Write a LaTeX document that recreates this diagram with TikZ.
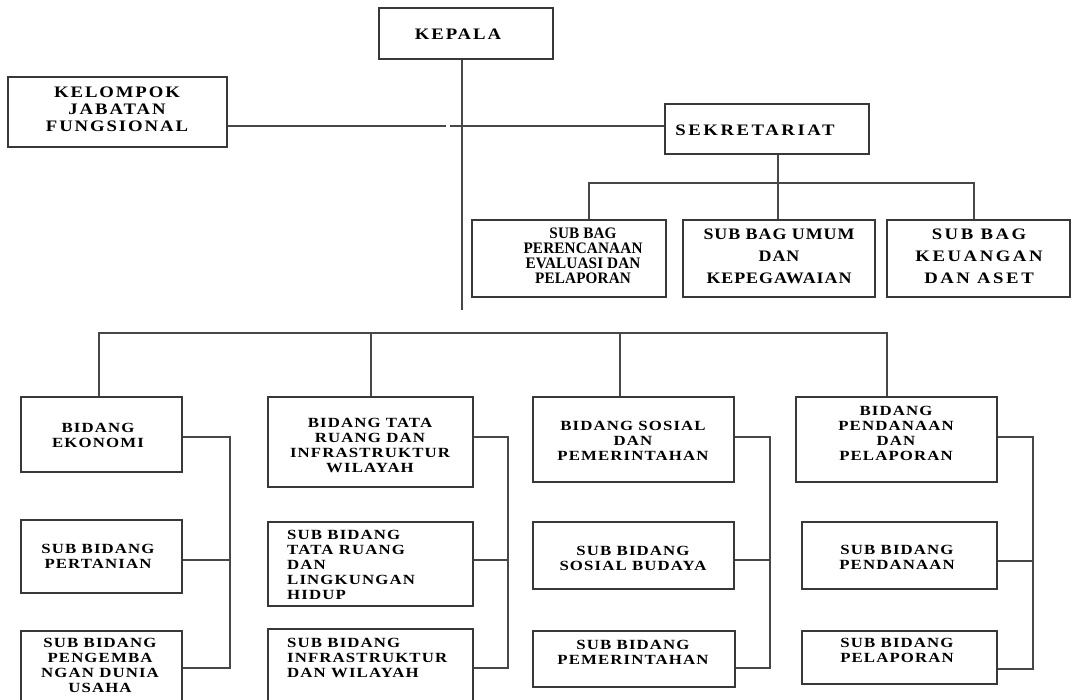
\documentclass[tikz,border=0pt]{standalone}
\usepackage{fontspec}
\setmainfont{Liberation Serif}
\newfontfamily\wideA[FakeStretch=1.17,LetterSpace=12]{Liberation Serif}
\newfontfamily\wideB[FakeStretch=1.2,LetterSpace=8]{Liberation Serif}
\newfontfamily\wideC[FakeStretch=0.95,LetterSpace=1]{Liberation Serif}
\newfontfamily\wideD[FakeStretch=1.12,LetterSpace=6]{Liberation Serif}
\newfontfamily\wideE[FakeStretch=1.17,LetterSpace=16]{Liberation Serif}
\begin{document}
\begin{tikzpicture}[x=1pt,y=-1pt,
  box/.style={draw=black!78, line width=1.7pt, rectangle, inner sep=0pt},
  ln/.style={draw=black!72, line width=1.7pt},
  tt/.style={inner sep=0pt, align=center, text=black, font=\wideA\fontsize{16}{16}\selectfont\bfseries},
  bt/.style={inner sep=0pt, align=center, text=black, font=\wideB\fontsize{14}{15}\selectfont\bfseries},
  bl/.style={inner sep=0pt, align=left, anchor=north west, text=black, font=\wideB\fontsize{14}{15}\selectfont\bfseries}
]
\clip (0,0) rectangle (1075,700);
\fill[white] (0,0) rectangle (1075,700);

% top boxes
\node[box, minimum width=174pt, minimum height=51pt] (kepala) at (465.75,33.8) {};
\node[tt] (tkepala) at (458,34) {KEPALA};
\node[box, minimum width=219pt, minimum height=70pt] (kelompok) at (117.5,112) {};
\node[tt, font=\wideA\fontsize{16}{17}\selectfont\bfseries] (tkelompok) at (117,109) {KELOMPOK\\JABATAN\\FUNGSIONAL};
\node[box, minimum width=204pt, minimum height=50pt] (sekr) at (767,129) {};
\node[tt, font=\wideE\fontsize{16}{16}\selectfont\bfseries] (tsekr) at (755,130.5) {SEKRETARIAT};

\node[box, minimum width=194pt, minimum height=77pt] (sb1) at (569,258.5) {};
\node[tt, font=\wideC\fontsize{16}{15}\selectfont\bfseries] (tsb1) at (583,255.5) {SUB BAG\\PERENCANAAN\\EVALUASI DAN\\PELAPORAN};
\node[box, minimum width=192pt, minimum height=77pt] (sb2) at (779,258.5) {};
\node[tt, font=\wideD\fontsize{16}{22}\selectfont\bfseries] (tsb2) at (779,256.5) {SUB BAG UMUM\\DAN\\KEPEGAWAIAN};
\node[box, minimum width=183pt, minimum height=77pt] (sb3) at (978.5,258.5) {};
\node[tt, font=\wideE\fontsize{16}{22}\selectfont\bfseries] (tsb3) at (979,256.5) {SUB BAG\\KEUANGAN\\DAN ASET};

% bottom boxes
\node[box, minimum width=161pt, minimum height=75pt] (b11) at (101.5,434.5) {};
\node[bt] (tb11) at (98,435) {BIDANG\\EKONOMI};
\node[box, minimum width=161pt, minimum height=73pt] (b12) at (101.5,556.5) {};
\node[bt] (tb12) at (98,556) {SUB BIDANG\\PERTANIAN};
\node[box, minimum width=161pt, minimum height=84pt] (b13) at (101.5,673) {};
\node[bt] (tb13) at (100,665.5) {SUB BIDANG\\PENGEMBA\\NGAN DUNIA\\USAHA};

\node[box, minimum width=205pt, minimum height=90pt] (b21) at (370.5,442) {};
\node[bt] (tb21) at (370,445) {BIDANG TATA\\RUANG DAN\\INFRASTRUKTUR\\WILAYAH};
\node[box, minimum width=205pt, minimum height=84pt] (b22) at (370.5,564) {};
\node[bl] (tb22) at (287,530) {SUB BIDANG\\TATA RUANG\\DAN\\LINGKUNGAN\\HIDUP};
\node[box, minimum width=205pt, minimum height=86pt] (b23) at (370.5,672) {};
\node[bl] (tb23) at (287,638) {SUB BIDANG\\INFRASTRUKTUR\\DAN WILAYAH};

\node[box, minimum width=201pt, minimum height=85pt] (b31) at (633.5,439.5) {};
\node[bt] (tb31) at (633,441) {BIDANG SOSIAL\\DAN\\PEMERINTAHAN};
\node[box, minimum width=201pt, minimum height=67pt] (b32) at (633.5,555.5) {};
\node[bt] (tb32) at (633,558) {SUB BIDANG\\SOSIAL BUDAYA};
\node[box, minimum width=202pt, minimum height=56pt] (b33) at (634,659) {};
\node[bt] (tb33) at (633,652) {SUB BIDANG\\PEMERINTAHAN};

\node[box, minimum width=201pt, minimum height=85pt] (b41) at (896.5,439.5) {};
\node[bt] (tb41) at (896,433) {BIDANG\\PENDANAAN\\DAN\\PELAPORAN};
\node[box, minimum width=195pt, minimum height=67pt] (b42) at (899.5,555.5) {};
\node[bt] (tb42) at (897,557) {SUB BIDANG\\PENDANAAN};
\node[box, minimum width=195pt, minimum height=53pt] (b43) at (899.5,657.5) {};
\node[bt] (tb43) at (897,650) {SUB BIDANG\\PELAPORAN};

% coordinates
\coordinate (mvB) at (461.7,310);
\coordinate (hL) at (446,126.3);
\coordinate (hR) at (450,126.3);
\coordinate (sj) at (778,183);
\coordinate (sl) at (588.7,183);
\coordinate (sr) at (973.8,183);
\coordinate (d1) at (98.7,333);
\coordinate (d2) at (371,333);
\coordinate (d3) at (620,333);
\coordinate (d4) at (887,333);
\coordinate (c1a) at (230,437); \coordinate (c1b) at (230,560); \coordinate (c1c) at (230,668);
\coordinate (c2a) at (508,437); \coordinate (c2b) at (508,560); \coordinate (c2c) at (508,668);
\coordinate (c3a) at (770,437); \coordinate (c3b) at (770,560); \coordinate (c3c) at (770,668);
\coordinate (c4a) at (1033,437); \coordinate (c4b) at (1033,561); \coordinate (c4c) at (1033,669);

% connectors
\draw[ln] (kepala.south -| mvB) -- (mvB);
\draw[ln] (kelompok.east |- hL) -- (hL);
\draw[ln] (hR) -- (hR -| sekr.west);
\draw[ln] (sj |- sekr.south) -- (sj);
\draw[ln] (sl |- sb1.north) -- (sl) -- (sr) -- (sr |- sb3.north);
\draw[ln] (sj) -- (sj |- sb2.north);

\draw[ln] (d1 |- b11.north) -- (d1) -- (d4) -- (d4 |- b41.north);
\draw[ln] (d2) -- (d2 |- b21.north);
\draw[ln] (d3) -- (d3 |- b31.north);

\draw[ln] (b11.east |- c1a) -- (c1a) -- (c1c) -- (b13.east |- c1c);
\draw[ln] (b12.east |- c1b) -- (c1b);
\draw[ln] (b21.east |- c2a) -- (c2a) -- (c2c) -- (b23.east |- c2c);
\draw[ln] (b22.east |- c2b) -- (c2b);
\draw[ln] (b31.east |- c3a) -- (c3a) -- (c3c) -- (b33.east |- c3c);
\draw[ln] (b32.east |- c3b) -- (c3b);
\draw[ln] (b41.east |- c4a) -- (c4a) -- (c4c) -- (b43.east |- c4c);
\draw[ln] (b42.east |- c4b) -- (c4b);
\end{tikzpicture}
\end{document}
